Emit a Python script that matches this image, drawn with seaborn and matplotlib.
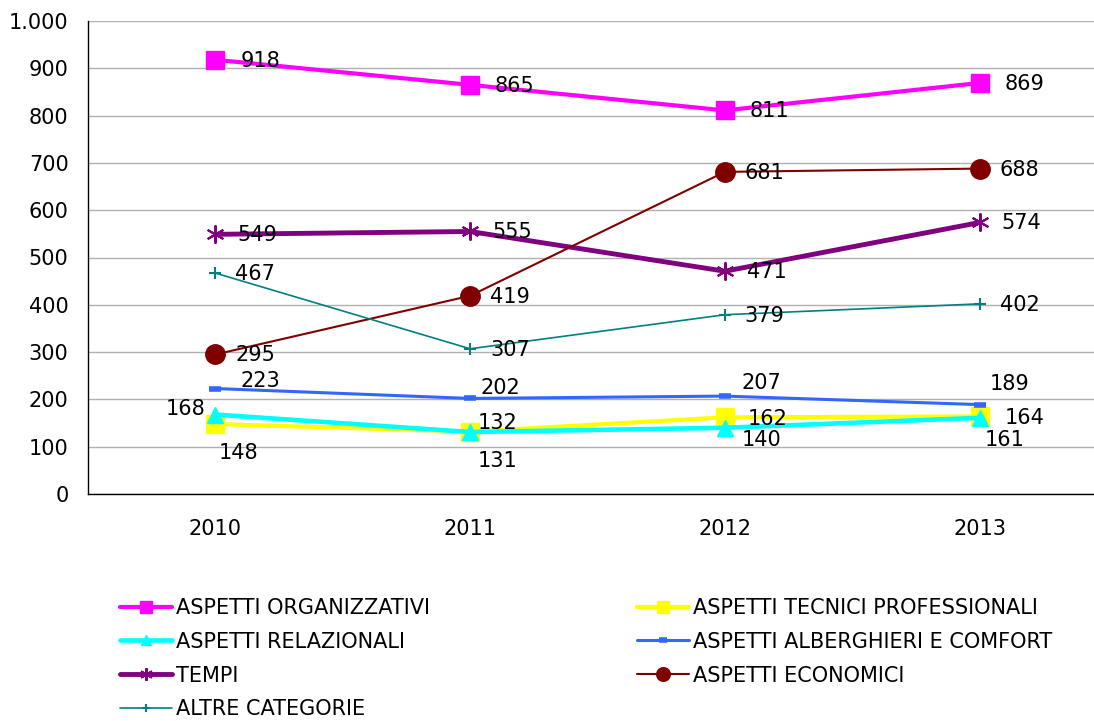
import matplotlib
matplotlib.use("Agg")
import matplotlib.pyplot as plt
import matplotlib.ticker as mticker
import seaborn as sns

years = ["2010", "2011", "2012", "2013"]

organizzativi = [918, 865, 811, 869]
tecnici = [148, 132, 162, 164]
relazionali = [168, 131, 140, 161]
alberghieri = [223, 202, 207, 189]
tempi = [549, 555, 471, 574]
economici = [295, 419, 681, 688]
altre = [467, 307, 379, 402]

series_names = [
    "ASPETTI ORGANIZZATIVI",
    "ASPETTI TECNICI PROFESSIONALI",
    "ASPETTI RELAZIONALI",
    "ASPETTI ALBERGHIERI E COMFORT",
    "TEMPI",
    "ASPETTI ECONOMICI",
    "ALTRE CATEGORIE",
]
series_values = [organizzativi, tecnici, relazionali, alberghieri, tempi, economici, altre]

# style per series: color, marker, marker size, line width, marker edge width
styles = {
    "ASPETTI ORGANIZZATIVI": ("#FF00FF", "s", 13, 3.0, 1),
    "ASPETTI TECNICI PROFESSIONALI": ("#FFFF00", "s", 13, 3.0, 1),
    "ASPETTI RELAZIONALI": ("#00FFFF", "^", 11, 3.3, 1),
    "ASPETTI ALBERGHIERI E COMFORT": ("#3366FF", "_", 9, 2.2, 4),
    "TEMPI": ("#800080", (6, 2, 0), 13, 3.5, 1.5),
    "ASPETTI ECONOMICI": ("#800000", "o", 14, 1.5, 1),
    "ALTRE CATEGORIE": ("#008080", "+", 8, 1.2, 1.5),
}

# label offsets in pixels (dx, dy) for each point
label_offsets = {
    "ASPETTI ORGANIZZATIVI": [(25, -1)] * 4,
    "ASPETTI TECNICI PROFESSIONALI": [(3, -29), (8, 9), (23, -2), (25, -2)],
    "ASPETTI RELAZIONALI": [(-50, 6), (8, -29), (17, -12), (5, -22)],
    "ASPETTI ALBERGHIERI E COMFORT": [(25, 8), (10, 10), (17, 13), (10, 21)],
    "TEMPI": [(22, -1)] * 4,
    "ASPETTI ECONOMICI": [(20, -1)] * 4,
    "ALTRE CATEGORIE": [(20, -1)] * 4,
}

sns.set_style("white")
plt.rcParams["font.family"] = ["DejaVu Sans"]
plt.rcParams["text.color"] = "black"
plt.rcParams["xtick.color"] = "black"
plt.rcParams["ytick.color"] = "black"
font_size = 15

fig = plt.figure(figsize=(10.94, 7.21), dpi=100)
ax = fig.add_axes([88 / 1094, 227 / 721, 1019 / 1094, 473 / 721])

x_pos = list(range(len(years)))
handles = {}
for name, vals in zip(series_names, series_values):
    color, marker, ms, lw, mew = styles[name]
    sns.lineplot(x=x_pos, y=vals, ax=ax, color=color, marker=marker,
                 markersize=ms, linewidth=lw, markeredgewidth=mew,
                 markeredgecolor=color, label=name)
    handles[name] = ax.get_lines()[-1]
    for i, v in enumerate(vals):
        dx, dy = label_offsets[name][i]
        ax.annotate(str(v), (i, v), xytext=(dx, dy), textcoords="offset pixels",
                    ha="left", va="center", fontsize=font_size, color="black")

ax.set_xlim(-0.5, 3.5)
ax.set_ylim(0, 1000)
ax.yaxis.set_major_locator(mticker.MultipleLocator(100))
ax.yaxis.set_major_formatter(
    mticker.FuncFormatter(lambda v, p: f"{int(v):,}".replace(",", ".")))
ax.grid(axis="y", color="#B0B0B0", linewidth=1)
ax.set_axisbelow(True)

ax.set_xticks(x_pos)
ax.set_xticklabels(years)
ax.set_xticks([-0.5, 0.5, 1.5, 2.5, 3.5], minor=True)
ax.tick_params(axis="x", which="major", length=0, pad=18, labelsize=font_size)
ax.tick_params(axis="x", which="minor", length=8, width=1, color="black", direction="out")
ax.tick_params(axis="y", length=6, width=1, color="black", direction="out",
               labelsize=font_size, pad=8)

for side in ["top", "right"]:
    ax.spines[side].set_visible(False)
for side in ["left", "bottom"]:
    ax.spines[side].set_color("black")
    ax.spines[side].set_linewidth(1)

ax.get_legend().remove()
order = ["ASPETTI ORGANIZZATIVI", "ASPETTI RELAZIONALI", "TEMPI", "ALTRE CATEGORIE",
         "ASPETTI TECNICI PROFESSIONALI", "ASPETTI ALBERGHIERI E COMFORT", "ASPETTI ECONOMICI"]
fig.legend([handles[n] for n in order], order, loc="upper left",
           bbox_to_anchor=(120 / 1094, 1 - 598 / 721), ncol=2, frameon=False,
           fontsize=font_size, handlelength=2.5, handletextpad=0.2,
           columnspacing=9.9, labelspacing=0.66, borderaxespad=0,
           borderpad=0, markerscale=0.7)

fig.savefig("out.png", dpi=100)
